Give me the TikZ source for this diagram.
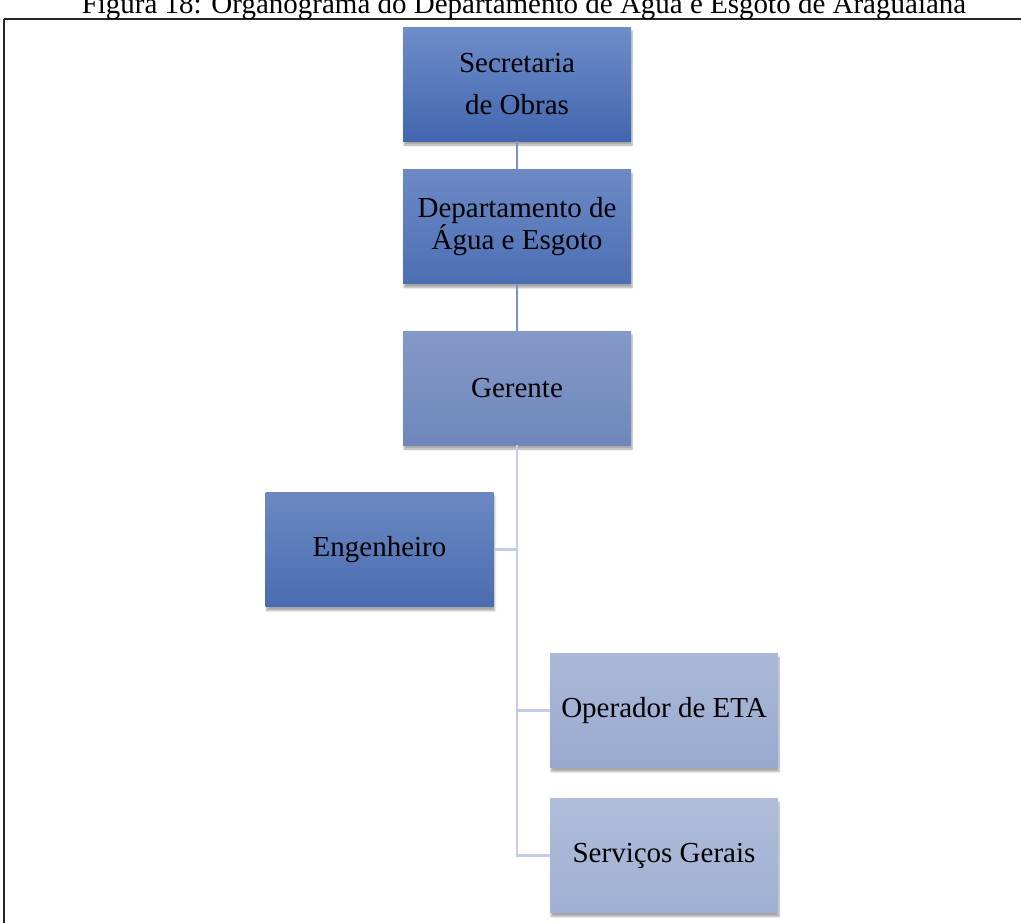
\documentclass[tikz,border=0pt]{standalone}
\usepackage{fontspec}
\setmainfont{Liberation Serif}
\usetikzlibrary{shadows.blur}
\definecolor{secT}{HTML}{6E8DC9}\definecolor{secB}{HTML}{4266AF}
\definecolor{depT}{HTML}{6D89C5}\definecolor{depB}{HTML}{4C6FB4}
\definecolor{gerT}{HTML}{8599C8}\definecolor{gerB}{HTML}{6E87BB}
\definecolor{engT}{HTML}{6B88C3}\definecolor{engB}{HTML}{4A6DB0}
\definecolor{opT}{HTML}{ABB8D8}\definecolor{opB}{HTML}{99AACF}
\definecolor{svT}{HTML}{B0BDDA}\definecolor{svB}{HTML}{A0B0D3}
\definecolor{lnDark}{HTML}{7A93CC}
\definecolor{lnLight}{HTML}{C3CCE8}
\tikzset{
  orgbox/.style={minimum width=228pt, minimum height=114pt, inner sep=0pt,
    align=center, font=\fontsize{29}{32}\selectfont, text=black,
    blur shadow={shadow xshift=1pt, shadow yshift=-4pt, shadow blur steps=6, shadow opacity=35}},
  darkline/.style={draw=lnDark, line width=2.5pt},
  lightline/.style={draw=lnLight, line width=2.5pt},
}
\begin{document}
\begin{tikzpicture}[x=1pt,y=-1pt]
\useasboundingbox (0,0) rectangle (1021,922);
% frame and cut-off title
\draw[line width=1.6pt, black!85] (4,19) -- (1030,19);
\draw[line width=1.6pt, black!85] (4,19) -- (4,930);
\node[font=\fontsize{29}{32}\selectfont, anchor=base] (title) at (524,13) {Figura 18: Organograma do Departamento de Água e Esgoto de Araguaiana};
% boxes
\node[orgbox, top color=secT, bottom color=secB] (sec) at (517,84) {Secretaria\\[10pt] de Obras};
\node[orgbox, top color=depT, bottom color=depB] (dep) at (517,226.5) {Departamento de\\Água e Esgoto};
\node[orgbox, top color=gerT, bottom color=gerB] (ger) at (517,388) {Gerente};
\node[orgbox, top color=engT, bottom color=engB] (eng) at (379.5,549.5) {Engenheiro};
\node[orgbox, top color=opT, bottom color=opB] (op) at (664,710.5) {Operador de ETA};
\node[orgbox, top color=svT, bottom color=svB] (serv) at (664,855.5) {Serviços Gerais};
% connectors
\draw[darkline] (sec.south) -- (dep.north);
\draw[darkline] (dep.south) -- (ger.north);
\draw[lightline] (ger.south) -- (ger.south |- serv.west) -- (serv.west);
\draw[lightline] (ger.south |- eng.east) -- (eng.east);
\draw[lightline] (ger.south |- op.west) -- (op.west);
\end{tikzpicture}
\end{document}
